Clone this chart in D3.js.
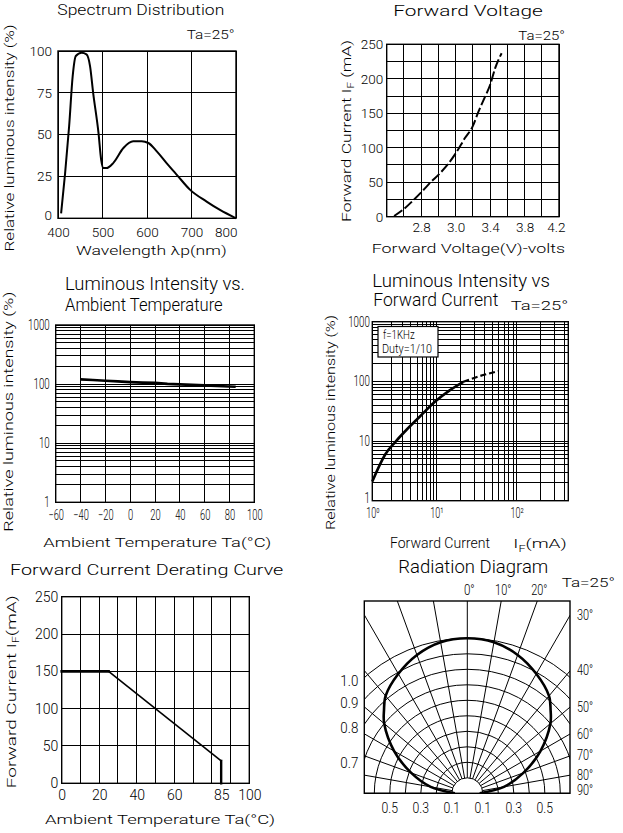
<!DOCTYPE html>
<html><head><meta charset="utf-8">
<script src="https://cdn.jsdelivr.net/npm/d3@7"></script>
<style>
body{margin:0;background:#fff;}
svg{display:block;}
text{font-weight:300;}
</style></head><body>
<svg id="c" width="623" height="833"></svg>
<script>
// ---------------- DATA ----------------
// Spectrum Distribution
const specWavelength = [407,416,425,433,440,453,464,472,479,491,497,502,509,524,547,569,588,603,622,644,667,697,734,764,800];
const specIntensity  = [3,27,55,85,97,99,98,91,75,51,35,30,30,33,42,46,46,45,40,33,26,17,10,5,0];
const specXTicks = [400,500,600,700,800];
const specYTicks = [0,25,50,75,100];

// Forward Voltage (x in grid units, labels as printed)
const fvVoltage = [2.643,2.697,2.755,2.803,2.851,2.909,2.958,3.006,3.054,3.099,3.132,3.171,3.2,3.229,3.267];
const fvCurrent = [1,10.6,24,36,49,63,77,94,114,131,152,174,191,215,237];
const fvXTickValues = [2.8,3.0,3.2,3.4,3.6];
const fvXTickLabels = ["2.8","3.0","3.4","3.8","4.2"];
const fvYTicks = [0,50,100,150,200,250];

// Luminous Intensity vs Ambient Temperature
const tempAmbient = [-40,-30,-20,-10,0,10,20,30,40,50,60,70,80,85];
const tempIntensity = [120,117,114,111,108,106,105,101,99,97,95,93,91,90];
const tempXTicks = [-60,-40,-20,0,20,40,60,80,100];
const logYTicks = [1,10,100,1000];

// Luminous Intensity vs Forward Current
const ifCurrentSolid = [1,1.6,2.3,3.4,5.5,9.5,14.8,21.7];
const ifIntensitySolid = [2.1,6,9.7,15.3,25.5,45.5,71.5,98.5];
const ifCurrentDashed = [21.7,35,59];
const ifIntensityDashed = [98.5,123,148];
const ifXTicks = [1,10,100];
const ifXTickLabels = ["10⁰","10¹","10²"];
const ifLegend = ["f=1KHz","Duty=1/10"];

// Forward Current Derating Curve
const derTemp = [0,25,85,85];
const derCurrent = [150,150,30,0];
const derXTicks = [0,20,40,60,85,100];
const derYTicks = [0,50,100,150,200,250];

// Radiation Diagram
const radAngles = [0,10,20,30,40,45,50,60,70,80,90];
const radIntensity = [1.0,0.99,0.95,0.89,0.82,0.76,0.70,0.545,0.385,0.24,0.08];
const radRings = [0.1,0.2,0.3,0.4,0.5,0.6,0.7,0.8,0.9,1.0];
const radRays = [-90,-80,-70,-60,-50,-40,-30,-20,-10,0,10,20,30,40,50,60,70,80,90];
const radLeftLabels = [1.0,0.9,0.8,0.7];
const radBottomLabels = [-0.5,-0.3,-0.1,0.1,0.3,0.5];
const radTopAngleLabels = [0,10,20];
const radRightAngleLabels = [30,40,50,60,70,80,90];

// ---------------- DRAWING ----------------
const WIDE = 'Roboto,"DejaVu Sans","Liberation Sans",sans-serif';
const NARROW = 'Roboto,"Liberation Sans",sans-serif';
const TICK = 'Roboto,"Liberation Sans","DejaVu Sans",sans-serif';

const svg = d3.select('#c');
svg.append('rect').attr('width',623).attr('height',833).attr('fill','#fff');

// compress text horizontally to a per-character width (narrow lettering)
function squeeze(sel, perChar) {
  sel.each(function () {
    const n = this.textContent.length;
    const nat = this.getComputedTextLength();
    const want = n * perChar;
    if (nat > want) d3.select(this).attr('textLength', want).attr('lengthAdjust', 'spacingAndGlyphs');
  });
  return sel;
}
function txt(parent, x, y, s, o = {}) {
  const t = parent.append('text').attr('x', x).attr('y', y)
    .attr('font-family', o.ff || WIDE).attr('font-size', o.fs || 13)
    .attr('text-anchor', o.anchor || 'start').attr('fill', '#000');
  if (s !== null) t.text(s);
  if (o.len) t.attr('textLength', o.len).attr('lengthAdjust', 'spacingAndGlyphs');
  if (o.per) squeeze(t, o.per);
  if (o.rot) t.attr('transform', `rotate(-90,${x},${y})`);
  return t;
}
function frame(g, p) {
  g.append('rect').attr('x', p.l).attr('y', p.t).attr('width', p.r - p.l).attr('height', p.b - p.t)
    .attr('fill', 'none').attr('stroke', '#000').attr('stroke-width', 1.4);
}
function vgrid(g, vals, sc, p) {
  g.append('g').selectAll('line').data(vals).join('line')
    .attr('x1', d => sc(d)).attr('x2', d => sc(d)).attr('y1', p.t).attr('y2', p.b)
    .attr('stroke', '#000').attr('stroke-width', 1).attr('shape-rendering', 'crispEdges');
}
function hgrid(g, vals, sc, p) {
  g.append('g').selectAll('line').data(vals).join('line')
    .attr('y1', d => sc(d)).attr('y2', d => sc(d)).attr('x1', p.l).attr('x2', p.r)
    .attr('stroke', '#000').attr('stroke-width', 1).attr('shape-rendering', 'crispEdges');
}
function leftAxis(g, sc, p, ticks, fmt, font, fs, pad, per) {
  const a = d3.axisLeft(sc).tickValues(ticks).tickSize(0).tickPadding(pad);
  if (fmt) a.tickFormat(fmt);
  const ag = g.append('g').attr('transform', `translate(${p.l},0)`).call(a);
  ag.select('.domain').remove();
  ag.attr('font-family', font).attr('font-size', fs);
  ag.selectAll('text').attr('fill', '#000');
  if (per) squeeze(ag.selectAll('text'), per);
  return ag;
}
function bottomAxis(g, sc, p, ticks, fmt, font, fs, pad, per) {
  const a = d3.axisBottom(sc).tickValues(ticks).tickSize(0).tickPadding(pad);
  if (fmt) a.tickFormat(fmt);
  const ag = g.append('g').attr('transform', `translate(0,${p.b})`).call(a);
  ag.select('.domain').remove();
  ag.attr('font-family', font).attr('font-size', fs);
  ag.selectAll('text').attr('fill', '#000');
  if (per) squeeze(ag.selectAll('text'), per);
  return ag;
}

// ===== Panel 1: Spectrum Distribution =====
{
  const g = svg.append('g');
  const p = {l: 58, r: 236, t: 51, b: 218.3};
  const x = d3.scaleLinear().domain([400, 800]).range([p.l, p.r]);
  const y = d3.scaleLinear().domain([0, 100]).range([p.b, p.t]);
  vgrid(g, specXTicks, x, p);
  hgrid(g, specYTicks, y, p);
  frame(g, p);
  const ya = leftAxis(g, y, p, specYTicks, null, TICK, 13.5, 6);
  ya.selectAll('.tick:first-of-type text').attr('dy', '0.1em');
  const xa = bottomAxis(g, x, p, specXTicks, null, TICK, 13.5, 9);
  xa.selectAll('.tick:last-of-type text').attr('text-anchor', 'end').attr('x', 1);
  const pts = specWavelength.map((w, i) => [w, specIntensity[i]]);
  g.append('path').datum(pts)
    .attr('d', d3.line().x(d => x(d[0])).y(d => y(d[1])).curve(d3.curveMonotoneX))
    .attr('fill', 'none').attr('stroke', '#000').attr('stroke-width', 2);
  txt(g, 57.3, 15, 'Spectrum Distribution', {fs: 14, len: 167});
  txt(g, 186.7, 38.5, 'Ta=25°', {fs: 13.5, len: 48});
  txt(g, 13.5, 138, 'Relative luminous intensity (%)', {fs: 13.5, anchor: 'middle', rot: true, len: 227});
  txt(g, 76, 254.5, 'Wavelength λp(nm)', {fs: 13.5, len: 150.7});
}

// ===== Panel 2: Forward Voltage =====
{
  const g = svg.append('g');
  const p = {l: 386.7, r: 559, t: 44.3, b: 216.7};
  const x = d3.scaleLinear().domain([2.6, 3.6]).range([p.l, p.r]);
  const y = d3.scaleLinear().domain([0, 250]).range([p.b, p.t]);
  vgrid(g, d3.range(0, 11).map(i => 2.6 + i * 0.1), x, p);
  hgrid(g, d3.range(0, 251, 25), y, p);
  frame(g, p);
  leftAxis(g, y, p, fvYTicks, null, TICK, 13.5, 3.5);
  const xa = bottomAxis(g, x, p, fvXTickValues, (d, i) => fvXTickLabels[i], TICK, 13.5, 5.5);
  xa.selectAll('.tick:last-of-type text').attr('text-anchor', 'end').attr('x', 6);
  const pts = fvVoltage.map((v, i) => [v, fvCurrent[i]]);
  g.append('path').datum(pts)
    .attr('d', d3.line().x(d => x(d[0])).y(d => y(d[1])).curve(d3.curveMonotoneX))
    .attr('fill', 'none').attr('stroke', '#000').attr('stroke-width', 2).attr('stroke-dasharray', '10,3');
  txt(g, 393.3, 16, 'Forward Voltage', {fs: 14, len: 149.4});
  txt(g, 518.3, 40, 'Ta=25°', {fs: 13.5, len: 46.7});
  const yt = txt(g, 350.5, 131, null, {fs: 13.5, anchor: 'middle', rot: true, len: 182});
  yt.append('tspan').text('Forward Current I');
  yt.append('tspan').text('F').attr('font-size', 9).attr('dy', 3);
  yt.append('tspan').text(' (mA)').attr('dy', -3);
  txt(g, 371.7, 252.5, 'Forward Voltage(V)-volts', {fs: 13.5, len: 193.3});
}

// ===== Panel 3: Luminous Intensity vs Ambient Temperature =====
{
  const g = svg.append('g');
  const p = {l: 55.7, r: 254.3, t: 325, b: 502.3};
  const x = d3.scaleLinear().domain([-60, 100]).range([p.l, p.r]);
  const y = d3.scaleLog().domain([1, 1000]).range([p.b, p.t]);
  vgrid(g, tempXTicks, x, p);
  hgrid(g, y.ticks(), y, p);
  frame(g, p);
  leftAxis(g, y, p, logYTicks, d3.format('d'), NARROW, 14, 6, 5.4);
  bottomAxis(g, x, p, tempXTicks, d3.format('d'), NARROW, 14, 8, 5.2);
  const pts = tempAmbient.map((t, i) => [t, tempIntensity[i]]);
  g.append('path').datum(pts)
    .attr('d', d3.line().x(d => x(d[0])).y(d => y(d[1])))
    .attr('fill', 'none').attr('stroke', '#000').attr('stroke-width', 2.6);
  txt(g, 65, 290, 'Luminous Intensity vs.', {ff: NARROW, fs: 18, len: 180});
  txt(g, 65, 311, 'Ambient Temperature', {ff: NARROW, fs: 18, len: 157.7});
  txt(g, 13.5, 411.7, 'Relative luminous intensity (%)', {fs: 13.5, anchor: 'middle', rot: true, len: 240});
  txt(g, 43.3, 547, 'Ambient Temperature Ta(°C)', {fs: 13.5, len: 228});
}

// ===== Panel 4: Luminous Intensity vs Forward Current =====
{
  const g = svg.append('g');
  const p = {l: 372.3, r: 568.3, t: 321.7, b: 500.7};
  const x = d3.scaleLog().domain([1, 10, 100, 450]).range([p.l, 436.3, 516.7, p.r]);
  const y = d3.scaleLog().domain([1, 1000]).range([p.b, p.t]);
  vgrid(g, x.ticks(), x, p);
  hgrid(g, y.ticks(), y, p);
  frame(g, p);
  const ya = leftAxis(g, y, p, logYTicks, d3.format('d'), NARROW, 14, 2.5, 5.4);
  ya.selectAll('.tick:first-of-type text').attr('dy', '0.15em');
  bottomAxis(g, x, p, ifXTicks, (d, i) => ifXTickLabels[i], NARROW, 14, 7.5, 4.4);
  // legend box
  g.append('rect').attr('x', 378).attr('y', 326.5).attr('width', 60).attr('height', 30.5)
    .attr('fill', '#fff').attr('stroke', '#000').attr('stroke-width', 1.2);
  txt(g, 383, 338.5, ifLegend[0], {ff: NARROW, fs: 13, len: 31.7});
  txt(g, 382, 353, ifLegend[1], {ff: NARROW, fs: 13, len: 50});
  const solid = ifCurrentSolid.map((c, i) => [c, ifIntensitySolid[i]]);
  const dashed = ifCurrentDashed.map((c, i) => [c, ifIntensityDashed[i]]);
  const ln = d3.line().x(d => x(d[0])).y(d => y(d[1])).curve(d3.curveMonotoneX);
  g.append('path').datum(solid).attr('d', ln)
    .attr('fill', 'none').attr('stroke', '#000').attr('stroke-width', 2.6);
  g.append('path').datum(dashed).attr('d', ln)
    .attr('fill', 'none').attr('stroke', '#000').attr('stroke-width', 2.2).attr('stroke-dasharray', '6,3');
  txt(g, 372.3, 287, 'Luminous Intensity vs', {ff: NARROW, fs: 18, len: 177.7});
  txt(g, 373.3, 306, 'Forward Current', {ff: NARROW, fs: 18, len: 125});
  txt(g, 510.7, 310, 'Ta=25°', {fs: 13.5, len: 57.6});
  txt(g, 335, 422.5, 'Relative luminous intensity (%)', {fs: 13.5, anchor: 'middle', rot: true, len: 215});
  txt(g, 390, 548, 'Forward Current', {ff: NARROW, fs: 14.5, len: 100});
  const it = txt(g, 513.3, 548, null, {fs: 13.5, len: 53.4});
  it.append('tspan').text('I');
  it.append('tspan').text('F').attr('font-size', 9).attr('dy', 4);
  it.append('tspan').text('(mA)').attr('dy', -4);
}

// ===== Panel 5: Forward Current Derating Curve =====
{
  const g = svg.append('g');
  const p = {l: 61.7, r: 249.3, t: 596.7, b: 783.3};
  const x = d3.scaleLinear().domain([0, 100]).range([p.l, p.r]);
  const y = d3.scaleLinear().domain([0, 250]).range([p.b, p.t]);
  vgrid(g, d3.range(0, 101, 10), x, p);
  hgrid(g, d3.range(0, 251, 50), y, p);
  frame(g, p);
  leftAxis(g, y, p, derYTicks, null, TICK, 14, 3.5);
  bottomAxis(g, x, p, derXTicks, null, TICK, 14, 6.5);
  const segW = [2.6, 1.6, 2.4];
  const pts = derTemp.map((t, i) => [t, derCurrent[i]]);
  g.append('g').selectAll('line').data(d3.pairs(pts)).join('line')
    .attr('x1', d => x(d[0][0])).attr('y1', d => y(d[0][1]))
    .attr('x2', d => x(d[1][0])).attr('y2', d => y(d[1][1]))
    .attr('stroke', '#000').attr('stroke-width', (d, i) => segW[i]).attr('stroke-linecap', 'square');
  txt(g, 10, 575, 'Forward Current Derating Curve', {fs: 14, len: 273.3});
  const yt = txt(g, 16.5, 691.7, null, {fs: 13.5, anchor: 'middle', rot: true, len: 193});
  yt.append('tspan').text('Forward Current I');
  yt.append('tspan').text('F').attr('font-size', 9).attr('dy', 3);
  yt.append('tspan').text('(mA)').attr('dy', -3);
  txt(g, 45, 824, 'Ambient Temperature Ta(°C)', {fs: 13.5, len: 230});
}

// ===== Panel 6: Radiation Diagram =====
{
  const g = svg.append('g');
  const p = {l: 364.3, r: 570, t: 601, b: 793.3};
  const cx = 467.3, cy = p.b;
  const r = d3.scaleLinear().domain([0, 1]).range([0, 155]);
  svg.append('defs').append('clipPath').attr('id', 'radclip')
    .append('rect').attr('x', p.l).attr('y', p.t).attr('width', p.r - p.l).attr('height', p.b - p.t);
  const cg = g.append('g').attr('clip-path', 'url(#radclip)');
  cg.selectAll('circle.ring').data(radRings).join('circle')
    .attr('cx', cx).attr('cy', cy).attr('r', d => r(d))
    .attr('fill', 'none').attr('stroke', '#000').attr('stroke-width', 1);
  const rad = a => a * Math.PI / 180;
  cg.selectAll('line.ray').data(radRays).join('line')
    .attr('x1', a => cx + r(0.1) * Math.sin(rad(a))).attr('y1', a => cy - r(0.1) * Math.cos(rad(a)))
    .attr('x2', a => cx + r(2) * Math.sin(rad(a))).attr('y2', a => cy - r(2) * Math.cos(rad(a)))
    .attr('stroke', '#000').attr('stroke-width', 1);
  const full = radAngles.slice().reverse().map((a, i) => ({a: -a, v: radIntensity[radAngles.length - 1 - i]}))
    .concat(radAngles.slice(1).map((a, i) => ({a: a, v: radIntensity[i + 1]})));
  cg.append('path').datum(full)
    .attr('transform', `translate(${cx},${cy})`)
    .attr('d', d3.lineRadial().angle(d => rad(d.a)).radius(d => r(d.v)).curve(d3.curveCatmullRom))
    .attr('fill', 'none').attr('stroke', '#000').attr('stroke-width', 2.6);
  frame(g, p);
  // labels
  const top = cy - p.t, half = p.r - cx;
  radTopAngleLabels.forEach(a => txt(g, cx + top * Math.tan(rad(a)) + 2, 594.5, a + '°', {ff: NARROW, fs: 14, anchor: 'middle', per: 5.4}));
  radRightAngleLabels.forEach(a => {
    const yy = a === 90 ? cy : cy - half / Math.tan(rad(a));
    txt(g, p.r + 7, Math.min(yy, cy - 3) + 4.5, a + '°', {ff: NARROW, fs: 14, per: 5.4});
  });
  radLeftLabels.forEach(v => {
    const dx = cx - p.l;
    const yy = cy - Math.sqrt(r(v) * r(v) - dx * dx);
    txt(g, 358.3, yy + 4 + 4.5, v.toFixed(1), {ff: NARROW, fs: 14.5, anchor: 'end', per: 6});
  });
  radBottomLabels.forEach(v => {
    txt(g, cx + Math.sign(v) * r(Math.abs(v)), 813, Math.abs(v).toFixed(1), {ff: NARROW, fs: 14.5, anchor: 'middle', per: 5.5});
  });
  txt(g, 398.3, 572.5, 'Radiation Diagram', {ff: NARROW, fs: 18, len: 150});
  txt(g, 561.7, 586.5, 'Ta=25°', {fs: 13.5, len: 53.3});
}
</script>
</body></html>
